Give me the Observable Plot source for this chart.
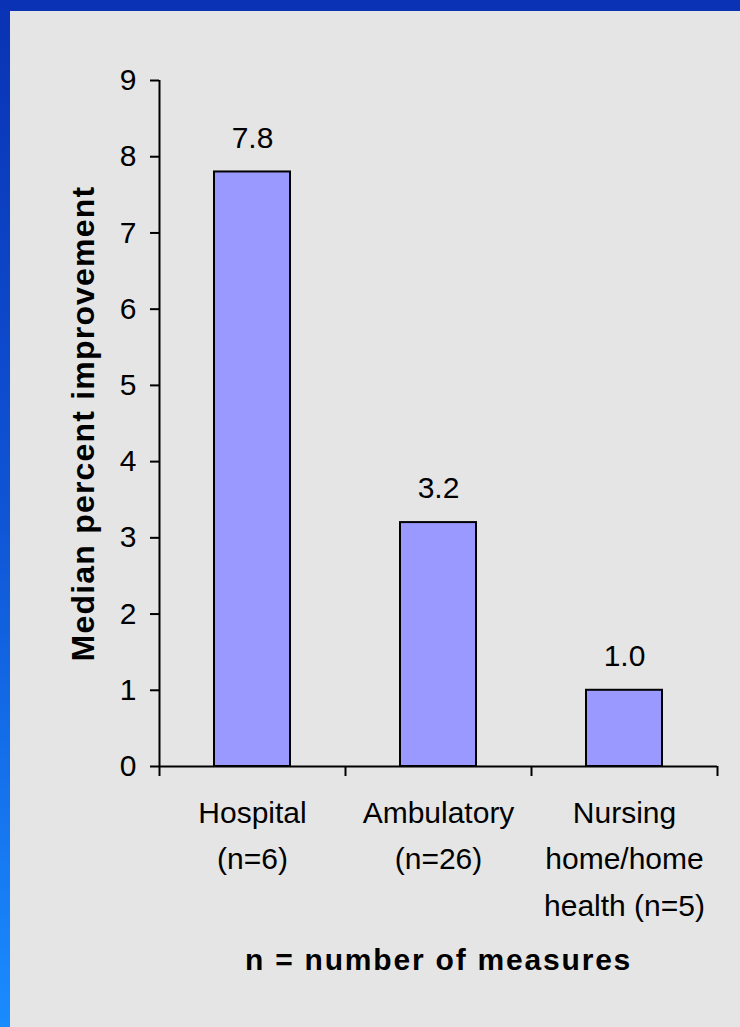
<!DOCTYPE html>
<html>
<head>
<meta charset="utf-8">
<script src="https://cdn.jsdelivr.net/npm/d3@7"></script>
<script src="https://cdn.jsdelivr.net/npm/@observablehq/plot@0.6"></script>
<style>
  html, body { margin: 0; padding: 0; width: 740px; height: 1027px; overflow: hidden; background: #e5e5e5; }
  #topbar { position: absolute; left: 0; top: 0; width: 740px; height: 11px; background: #0a32b4; }
  #leftbar { position: absolute; left: 0; top: 0; width: 10px; height: 1027px; background: linear-gradient(to bottom, #0a32b4 0%, #0f55d6 50%, #1a8cff 100%); }
  #chart { position: absolute; left: 10px; top: 11px; }
</style>
</head>
<body>
<div id="topbar"></div>
<div id="leftbar"></div>
<div id="chart"></div>
<script>
const categories = ["Hospital", "Ambulatory", "Nursing home/home health"];
const values = [7.8, 3.2, 1.0];
const categoryLabels = [["Hospital", "(n=6)"], ["Ambulatory", "(n=26)"], ["Nursing", "home/home", "health (n=5)"]];
const yTicks = [0, 1, 2, 3, 4, 5, 6, 7, 8, 9];
const yTitle = "Median percent improvement";
const captionText = "n = number of measures";

const data = categories.map((c, i) => ({cat: c, value: values[i], label: categoryLabels[i].join("\n")}));

const W = 730, H = 1016, ML = 149, MR = 23, MT = 69, MB = 261;
const bw = (W - ML - MR) / categories.length;
const font = "'Liberation Sans', Arial, sans-serif";

const chart = Plot.plot({
  width: W,
  height: H,
  marginLeft: ML,
  marginRight: MR,
  marginTop: MT,
  marginBottom: MB,
  style: {background: "#e5e5e5", color: "black", fontFamily: font, fontSize: "30px"},
  x: {domain: categories, padding: 0, axis: null},
  y: {domain: [0, 9]},
  marks: [
    Plot.barY(data, {x: "cat", y: "value", fill: "#9999ff", stroke: "black", strokeWidth: 2, insetLeft: 55, insetRight: 55}),
    Plot.axisY({ticks: yTicks, tickSize: 9, tickPadding: 14, fontSize: 30, strokeWidth: 2, label: null, tickFormat: d => String(d)}),
    Plot.ruleY([0], {strokeWidth: 2}),
    Plot.ruleX([categories[0]], {x: d => d, y1: 0, y2: 9, dx: -bw / 2, strokeWidth: 2}),
    Plot.ruleX(categories, {x: d => d, y1: 0, y2: 0, dx: -bw / 2, insetBottom: -10, strokeWidth: 2}),
    Plot.ruleX([categories[categories.length - 1]], {x: d => d, y1: 0, y2: 0, dx: bw / 2, insetBottom: -10, strokeWidth: 2}),
    Plot.text(data, {x: "cat", y: "value", text: d => d.value.toFixed(1), dy: -34, fontSize: 30}),
    Plot.text(data, {x: "cat", text: "label", frameAnchor: "bottom", lineAnchor: "top", dy: 23, lineHeight: 1.55, fontSize: 30}),
    Plot.text([yTitle], {text: d => d, frameAnchor: "left", textAnchor: "middle", rotate: -90, dx: -76, fontSize: 32, fontWeight: "bold"}),
    Plot.text([captionText], {text: d => d, frameAnchor: "bottom", dy: 203, fontSize: 30, fontWeight: "bold"})
  ]
});

d3.select(chart).selectAll("text").filter(function() { return this.textContent === yTitle; }).attr("letter-spacing", "1.2px");
d3.select(chart).selectAll("text").filter(function() { return this.textContent === captionText; }).attr("letter-spacing", "1.8px");

document.getElementById("chart").appendChild(chart);
</script>
</body>
</html>
